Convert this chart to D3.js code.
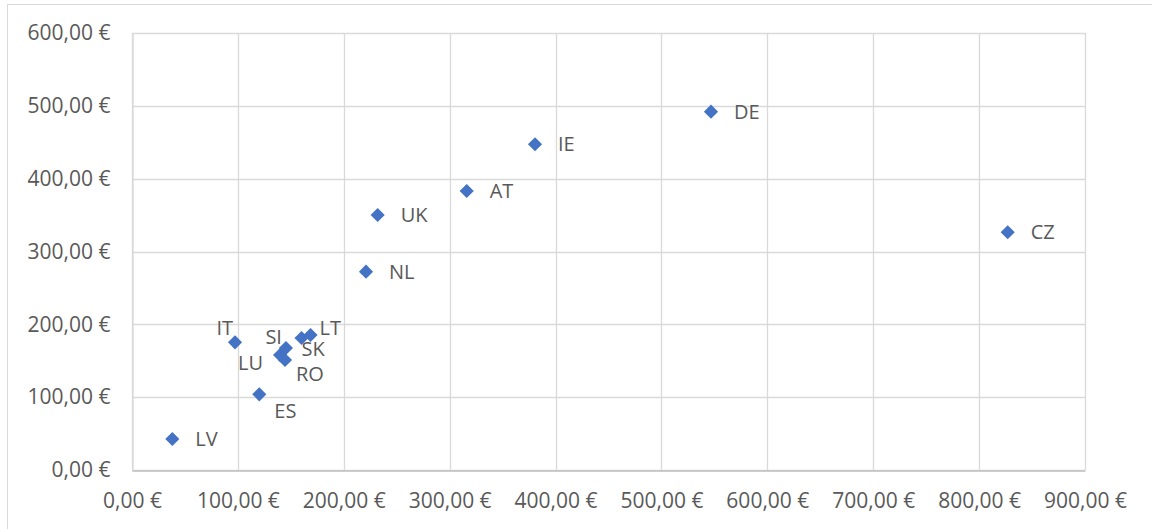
<!DOCTYPE html>
<html>
<head>
<meta charset="utf-8">
<script src="https://cdn.jsdelivr.net/npm/d3@7"></script>
<style>
  html, body { margin: 0; padding: 0; background: #fff; }
  svg { display: block; }
  text { font-family: "Open Sans", "Noto Sans", sans-serif; fill: #595959; }
</style>
</head>
<body>
<svg id="chart" width="1152" height="529"></svg>
<script>
// Country codes with their x / y amounts in euro
const codes   = ["LV", "ES", "IT", "LU", "RO", "SI", "SK", "LT", "NL", "UK", "AT", "IE", "DE", "CZ"];
const xValues = [38.1, 120.2, 97.3, 139.8, 144.5, 145.4, 160.1, 168.6, 221.0, 232.0, 316.1, 380.6, 546.8, 827.0];
const yValues = [42.6, 103.9, 175.3, 157.9, 151.0, 167.5, 181.2, 185.4, 272.3, 350.1, 383.1, 447.2, 492.0, 326.4];

const xTicks = [0, 100, 200, 300, 400, 500, 600, 700, 800, 900];
const yTicks = [0, 100, 200, 300, 400, 500, 600];

// Hand-placed label positions for the crowded lower-left group
const labelPlacement = {
  IT: { dx: -2,  dy: -15, anchor: "end" },
  SI: { dx: -4,  dy: -11, anchor: "end" },
  LU: { dx: -17, dy: 8,   anchor: "end" },
  RO: { dx: 11,  dy: 13.5, anchor: "start" },
  SK: { dx: 0,   dy: 11,  anchor: "start" },
  LT: { dx: 9,   dy: -7.5, anchor: "start" },
  ES: { dx: 15,  dy: 16.5, anchor: "start" }
};
const defaultPlacement = { dx: 23, dy: 0, anchor: "start" };

const svg = d3.select("#chart");
const plot = { left: 132, right: 1085, top: 33, bottom: 470 };

const x = d3.scaleLinear().domain([0, 900]).range([plot.left, plot.right]);
const y = d3.scaleLinear().domain([0, 600]).range([plot.bottom, plot.top]);

const euro = v => d3.format(".2f")(v).replace(".", ",") + " €";

// Outer chart frame
svg.append("rect")
  .attr("x", 7.5).attr("y", 4.5)
  .attr("width", 1160).attr("height", 540)
  .attr("fill", "none").attr("stroke", "#d9d9d9").attr("stroke-width", 1);

// Gridlines
const grid = svg.append("g").attr("stroke", "#d9d9d9").attr("stroke-width", 1.3);
grid.selectAll("line.v").data(xTicks).join("line")
  .attr("x1", d => Math.round(x(d)) + 0.5).attr("x2", d => Math.round(x(d)) + 0.5)
  .attr("y1", plot.top).attr("y2", plot.bottom);
grid.selectAll("line.h").data(yTicks).join("line")
  .attr("y1", d => Math.round(y(d)) + 0.5).attr("y2", d => Math.round(y(d)) + 0.5)
  .attr("x1", plot.left).attr("x2", plot.right);

// Axes (tick labels only, plus the baseline)
const tickFont = 21;
const xAxis = svg.append("g")
  .attr("transform", `translate(0,${Math.round(y(0)) + 0.5})`)
  .call(d3.axisBottom(x).tickValues(xTicks).tickFormat(euro).tickSize(0).tickPadding(23));
xAxis.select(".domain").attr("stroke", "#bfbfbf").attr("stroke-width", 1.3);
xAxis.selectAll("text").attr("font-size", tickFont).attr("fill", "#595959")
  .attr("font-family", "\"Open Sans\", sans-serif");

const yAxis = svg.append("g")
  .attr("transform", `translate(${Math.round(x(0)) + 0.5},0)`)
  .call(d3.axisLeft(y).tickValues(yTicks).tickFormat(euro).tickSize(0).tickPadding(22));
yAxis.select(".domain").attr("stroke", "#d9d9d9").attr("stroke-width", 1.3);
yAxis.selectAll("text").attr("font-size", tickFont).attr("fill", "#595959")
  .attr("font-family", "\"Open Sans\", sans-serif");

// Points
const points = codes.map((c, i) => ({ code: c, xv: xValues[i], yv: yValues[i] }));
const diamond = d3.symbol().type(d3.symbolSquare).size(100);

svg.append("g").selectAll("path").data(points).join("path")
  .attr("d", diamond)
  .attr("transform", d => `translate(${x(d.xv)},${y(d.yv)}) rotate(45)`)
  .attr("fill", "#4472c4");

// Data labels
svg.append("g").selectAll("text").data(points).join("text")
  .each(function (d) {
    const p = labelPlacement[d.code] || defaultPlacement;
    d3.select(this)
      .attr("x", x(d.xv) + p.dx)
      .attr("y", y(d.yv) + p.dy)
      .attr("text-anchor", p.anchor);
  })
  .attr("dy", "0.36em")
  .attr("font-size", 20)
  .text(d => d.code);
</script>
</body>
</html>
